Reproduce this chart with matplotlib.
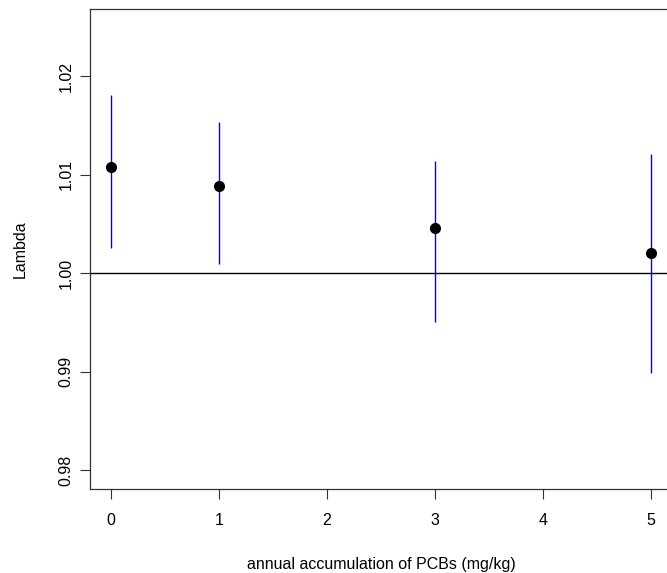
import matplotlib
matplotlib.use('Agg')
import matplotlib.pyplot as plt

plt.rcParams['font.family'] = ['Liberation Sans', 'DejaVu Sans']

# data
pcb_levels = [0, 1, 3, 5]
lambda_est = [1.0108, 1.0088, 1.0046, 1.0020]
lambda_low = [1.0026, 1.0009, 0.9950, 0.9899]
lambda_high = [1.0181, 1.0153, 1.0114, 1.0121]
x_ticks = [0, 1, 2, 3, 4, 5]
y_ticks = [0.98, 0.99, 1.00, 1.01, 1.02]

fig = plt.figure(figsize=(6.67, 5.73), dpi=100)
# plot box runs a little past the right edge of the image, as in the reference
ax = fig.add_axes([90 / 667, 84 / 573, (672.6 - 90) / 667, 480 / 573])

ax.axhline(1.0, color='black', lw=1)
ax.vlines(pcb_levels, lambda_low, lambda_high, color='#0000ff', lw=1)
ax.plot(pcb_levels, lambda_est, 'o', color='black', markersize=7)

ax.set_xlim(-0.194, 5.2)
ax.set_ylim(0.9781, 1.0268)
ax.set_xticks(x_ticks)
ax.set_xticklabels([str(v) for v in x_ticks])
ax.set_yticks(y_ticks)
ax.set_yticklabels([f'{v:.2f}' for v in y_ticks], rotation=90, va='center')

ax.tick_params(direction='out', length=7, width=0.8, labelsize=11.5, color='#333333')
ax.tick_params(axis='x', pad=10)
ax.tick_params(axis='y', pad=5)
for s in ax.spines.values():
    s.set_color('#333333')
    s.set_linewidth(0.9)

ax.set_xlabel('annual accumulation of PCBs (mg/kg)', fontsize=11.5, labelpad=21)
ax.set_ylabel('Lambda', fontsize=11.5, labelpad=22)

fig.savefig('out.png', dpi=100)
